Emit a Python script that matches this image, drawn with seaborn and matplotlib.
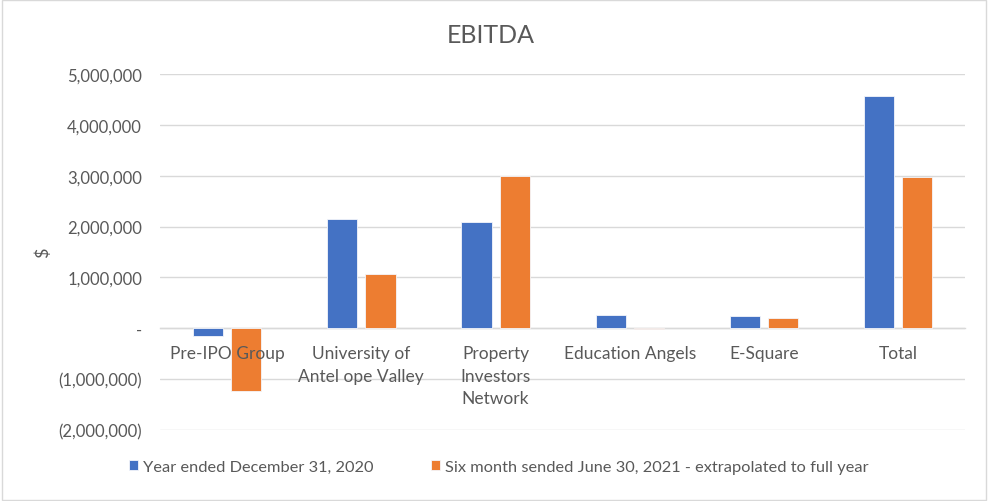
import matplotlib
matplotlib.use("Agg")
import matplotlib.pyplot as plt
import matplotlib.ticker as mticker
from matplotlib.patches import Rectangle
import seaborn as sns
import pandas as pd

categories = ["Pre-IPO Group", "University of\nAntel ope Valley", "Property\nInvestors\nNetwork",
              "Education Angels", "E-Square", "Total"]
series_names = ["Year ended December 31, 2020",
                "Six month sended June 30, 2021 - extrapolated to full year"]
values_2020 = [-140000, 2140000, 2080000, 255000, 236000, 4560000]
values_2021 = [-1220000, 1060000, 3000000, -20000, 196000, 2970000]
y_ticks = [-2000000, -1000000, 0, 1000000, 2000000, 3000000, 4000000, 5000000]
colors = ["#4472C4", "#ED7D31"]

df = pd.DataFrame({
    "Category": categories * 2,
    "Series": [series_names[0]] * len(categories) + [series_names[1]] * len(categories),
    "Value": values_2020 + values_2021,
})

sns.set_theme(style="white")
plt.rcParams["font.family"] = ["Lato", "DejaVu Sans"]
text_color = "#595959"

fig = plt.figure(figsize=(9.88, 5.02), dpi=100)
ax = fig.add_axes([0.162, 0.141, 0.815, 0.710])

sns.barplot(data=df, x="Category", y="Value", hue="Series", order=categories,
            hue_order=series_names, palette=colors, saturation=1, width=0.57, gap=0.21,
            edgecolor="#f4f6fb", linewidth=0.6, ax=ax, legend=True, zorder=3)

ax.set_ylim(-2000000, 5000000)
ax.set_xlim(-0.5, len(categories) - 0.5)
ax.set_yticks(y_ticks)

def fmt(v, pos):
    if abs(v) < 1:
        return "-"
    if v < 0:
        return "({:,.0f})".format(-v)
    return "{:,.0f}".format(v)

ax.yaxis.set_major_formatter(mticker.FuncFormatter(fmt))
ax.grid(axis="y", color="#d9d9d9", linewidth=1.0)
ax.yaxis.set_zorder(0.5)
ax.xaxis.set_zorder(4)
for s in ["top", "right", "left"]:
    ax.spines[s].set_visible(False)
ax.spines["bottom"].set_position(("data", 0))
ax.spines["bottom"].set_color("#d9d9d9")
ax.spines["bottom"].set_linewidth(1.0)
ax.spines["bottom"].set_zorder(2)
ax.tick_params(axis="y", length=0, pad=13, labelsize=12, labelcolor=text_color)
ax.tick_params(axis="x", length=0, pad=12, labelsize=12.5, labelcolor=text_color)
for lbl in ax.get_xticklabels():
    lbl.set_linespacing(1.5)
ax.set_xlabel("")
ax.set_ylabel("$", fontsize=13, color=text_color)
ax.yaxis.set_label_coords(-0.135, 0.5)

fig.suptitle("EBITDA", fontsize=18, color=text_color, x=0.497, y=0.93, va="center")

handles, labels = ax.get_legend_handles_labels()
ax.get_legend().remove()
fig.legend(handles, labels, loc="center", bbox_to_anchor=(0.505, 0.068), ncol=2,
           frameon=False, fontsize=11.8, handlelength=0.55, handleheight=0.55,
           handletextpad=0.3, columnspacing=3.5, labelcolor=text_color)

fig.patches.append(Rectangle((0.002, 0.002), 0.996, 0.996, transform=fig.transFigure,
                             fill=False, edgecolor="#d9d9d9", linewidth=1.0))

fig.savefig("out.png", dpi=100)
